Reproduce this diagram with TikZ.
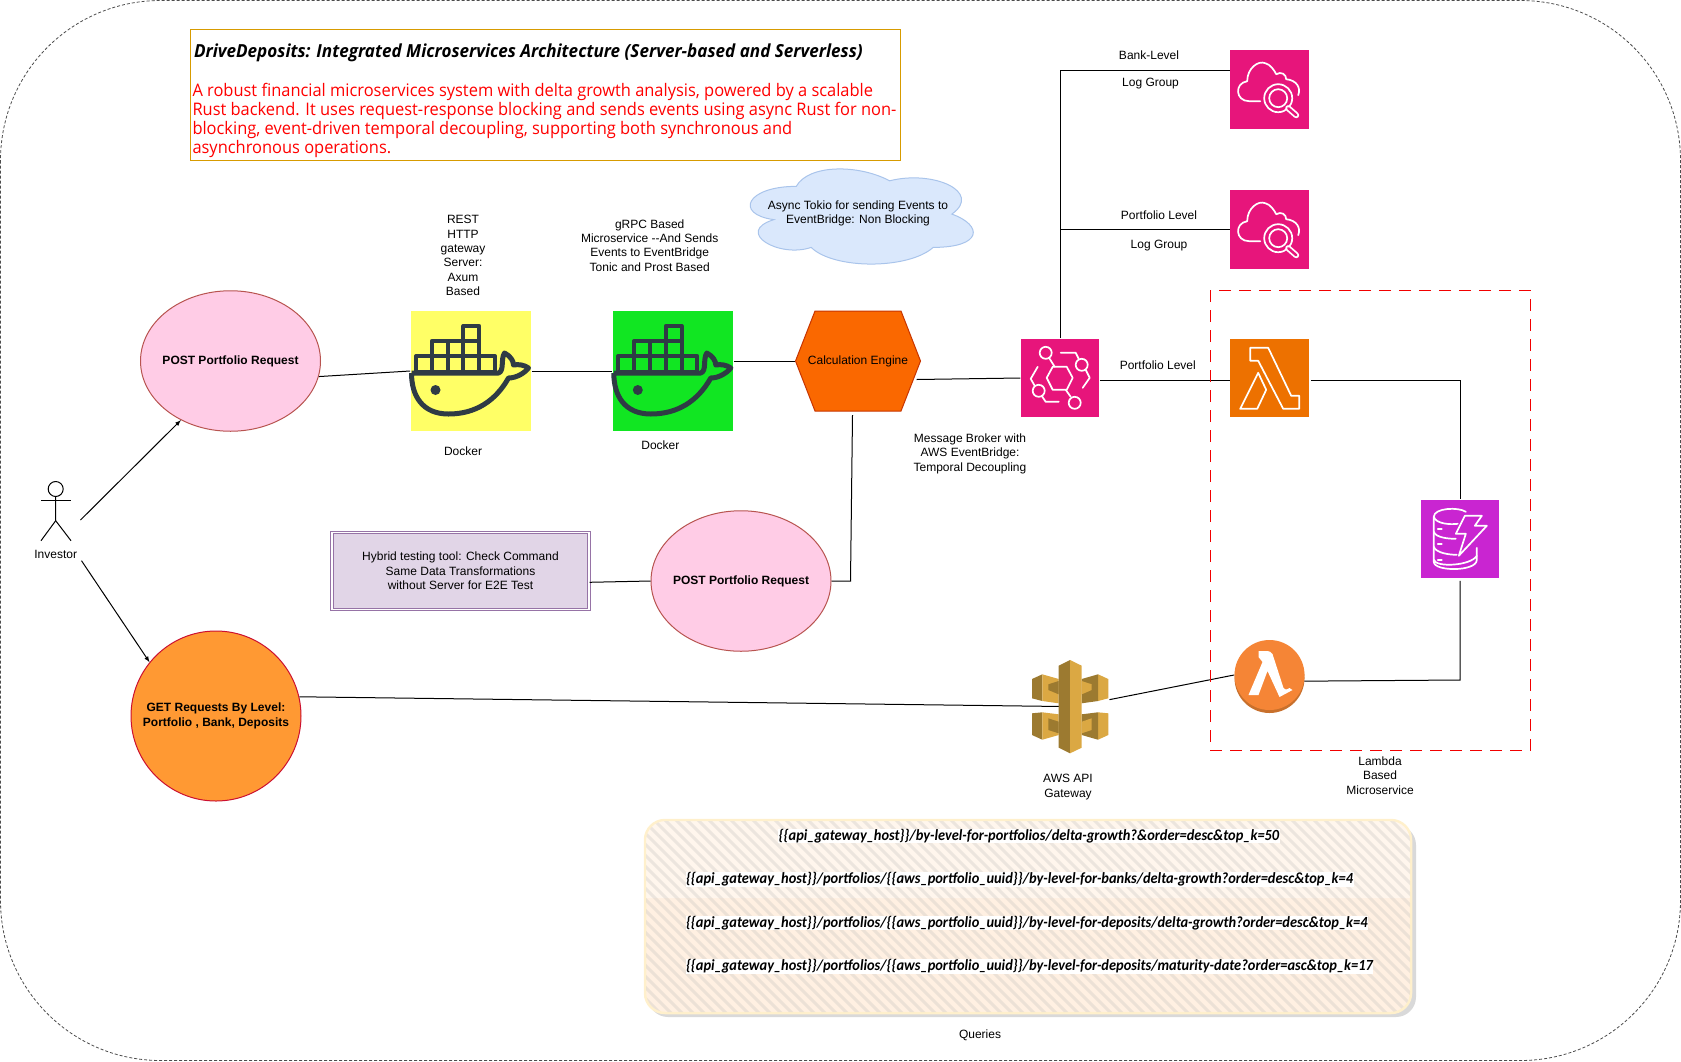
\documentclass[tikz,border=0pt]{standalone}
\usepackage{fontspec}
\setmainfont{Liberation Sans}
\newfontfamily\headfont[FakeStretch = 0.95]{Open Sans}
\newfontfamily\queryfont[FakeStretch = 0.93]{Carlito}
\usetikzlibrary{calc}
\usetikzlibrary{shapes.geometric}
\tikzset{>=latex}

\definecolor{pinkaws}{HTML}{E7157B}
\definecolor{orangeaws}{HTML}{ED7100}
\definecolor{purpleaws}{HTML}{C925D1}
\definecolor{whaleink}{HTML}{2F3B45}
\definecolor{goldlight}{HTML}{DBA843}
\definecolor{golddark}{HTML}{9C7A30}
\definecolor{yellowbox}{HTML}{FFFF66}
\definecolor{greenbox}{HTML}{11E622}
\definecolor{pinkfill}{HTML}{FFCCE6}
\definecolor{orangefill}{HTML}{FF9933}
\definecolor{pinkedge}{HTML}{B85450}
\definecolor{orangeedge}{HTML}{CC1030}
\definecolor{lilacfill}{HTML}{E1D5E7}
\definecolor{lilacedge}{HTML}{9673A6}
\definecolor{cloudfill}{HTML}{DAE8FC}
\definecolor{cloudedge}{HTML}{A9C4EB}
\definecolor{hexfill}{HTML}{FA6800}
\definecolor{hexedge}{HTML}{C73500}
\definecolor{lambdafill}{HTML}{F58536}
\definecolor{lambdadark}{HTML}{C8702C}
\definecolor{goldedge}{HTML}{D79B00}
\definecolor{queryfill}{HTML}{FFF0E2}
\definecolor{queryedge}{HTML}{FFF0CC}

\tikzset{
	awsbox/.style = {rectangle, minimum width = 78.5pt, minimum height = 78.5pt, inner sep = 0pt},
	dockerbox/.style = {rectangle, minimum width = 120.5pt, minimum height = 120pt, inner sep = 0pt},
	request/.style = {ellipse, draw = #1, minimum width = 180pt, minimum height = 140.5pt, inner sep = 0pt, inner xsep = -20pt, align = center, font = {\fontsize{12pt}{14.4pt}\selectfont\bfseries}},
	urlline/.style = {fill = white, inner sep = 0.5pt, font = {\queryfont\bfseries\itshape\fontsize{15.5pt}{18pt}\selectfont}},
	icon/.style = {white, line width = 1.7pt, line join = round, line cap = round}
}

% top left corner of the box in #1, #2
\newcommand{\dockerwhale}[2]{
\begin{scope}[shift = {(#1, #2)}, whaleink, line join = round]
\foreach \x in {0, 1, ..., 4}
	\draw[line width = 4pt] (5.5 + \x * 15.8, 45) rectangle ++(15.8, 15.7);
\foreach \x in {1, 2, 3}
	\draw[line width = 4pt] (5.5 + \x * 15.8, 30) rectangle ++(15.8, 15);
\draw[line width = 4pt] (52.9, 15) rectangle ++(15.8, 15);
\draw[line width = 5pt] (1, 62) -- (88, 62) .. controls (94, 60) and (90, 48) .. (94, 42) .. controls (100, 45) and (103, 50) .. (103, 54) .. controls (108, 53) and (114, 54) .. (118, 57) .. controls (114, 62) and (106, 67) .. (98, 67) .. controls (85, 90) and (65, 103) .. (38, 103) .. controls (12, 103) and (1, 85) .. (1, 62);
\fill (25, 79) circle [radius = 5];
\end{scope}
}

\newcommand{\logsicon}[2]{
\begin{scope}[shift = {(#1, #2)}]
\draw[icon] (30, 51) -- (19, 51) .. controls (5, 51) and (4, 33) .. (17, 31) .. controls (17, 18) and (28, 10) .. (35, 13) .. controls (40, 14) and (44, 20) .. (46, 24) .. controls (51, 21) and (56, 24) .. (56, 29) .. controls (66, 30) and (71, 37) .. (68, 45);
\draw[icon] (48, 48) circle [radius = 14];
\draw[icon] (48, 48) circle [radius = 9];
\draw[white, line width = 6pt, line cap = round] (58, 58) -- (66, 65);
\draw[pinkaws, line width = 2.5pt, line cap = round] (58, 58) -- (66, 65);
\end{scope}
}

\newcommand{\bridgeicon}[2]{
\begin{scope}[shift = {(#1, #2)}]
\draw[icon] (26, 39) -- (32, 28) -- (46, 28) -- (52, 39) -- (46, 51) -- (32, 51) -- cycle;
\draw[icon] (25, 14) circle [radius = 6];
\draw[icon] (61, 26) circle [radius = 6];
\draw[icon] (18, 52) circle [radius = 6];
\draw[icon] (54, 64) circle [radius = 6];
\draw[icon] (29, 20) -- (34, 28);
\draw[icon] (40, 14) -- (55, 14) -- (58, 20);
\draw[icon] (65, 31) -- (69, 39) -- (62, 49);
\draw[icon] (17, 28) -- (10, 40) -- (14, 47);
\draw[icon] (21, 57) -- (25, 63) -- (38, 63);
\draw[icon] (45, 51) -- (50, 58);
\end{scope}
}

\newcommand{\lambdaicon}[2]{
\begin{scope}[shift = {(#1, #2)}]
\draw[icon] (20, 9) -- (38, 9) -- (61, 57) -- (69, 57) -- (69, 70) -- (53, 70) -- (28, 22) -- (20, 22) -- cycle;
\draw[icon] (28, 34) -- (36, 51) -- (27, 70) -- (10, 70) -- cycle;
\end{scope}
}

\newcommand{\dynamoicon}[2]{
\begin{scope}[shift = {(#1, #2)}]
\draw[icon] (45, 12) .. controls (38, 7) and (13, 8) .. (13, 17) -- (13, 62) .. controls (13, 72) and (56, 72) .. (56, 60) -- (56, 48);
\draw[icon] (13, 17) .. controls (15, 24) and (29, 25) .. (37, 24);
\draw[icon] (13, 32) .. controls (15, 38) and (28, 39) .. (35, 39);
\draw[icon] (13, 47) .. controls (15, 53) and (28, 55) .. (36, 55);
\draw[icon] (13, 60) .. controls (15, 68) and (50, 66) .. (56, 56);
\draw[icon] (17, 29) -- (21, 29);
\draw[icon] (17, 44) -- (21, 44);
\draw[icon] (17, 60) -- (21, 60);
\draw[icon] (44, 16) -- (61, 16) -- (54, 26) -- (66, 26) -- (38, 56) -- (45, 34) -- (35, 34) -- cycle;
\end{scope}
}

\begin{document}
\begin{tikzpicture}[x = 1pt, y = -1pt, font = {\fontsize{12pt}{14.4pt}\selectfont}, line width = 1pt]
\useasboundingbox (0, 0) rectangle (1681, 1061);
\draw[black!70, line width = 0.8pt, dash pattern = on 3pt off 2pt, rounded corners = 160pt] (0.5, 0.5) rectangle (1680.5, 1060.5);

% title
\node[rectangle, draw = goldedge, minimum width = 710pt, minimum height = 131pt, inner sep = 0pt] (TITLE) at (545.5, 94.5) {};
\node[anchor = west, inner sep = 0pt, font = {\headfont\bfseries\itshape\fontsize{18pt}{19pt}\selectfont}] (HEADING) at (193.5, 53) {DriveDeposits: Integrated Microservices Architecture (Server-based and Serverless)};
\node[anchor = north west, inner sep = 0pt, align = left, red, font = {\headfont\fontsize{17.3pt}{19pt}\selectfont}] (SUMMARY) at (192, 82.5) {A robust financial microservices system with delta growth analysis, powered by a scalable \\ Rust backend. It uses request-response blocking and sends events using async Rust for non- \\ blocking, event-driven temporal decoupling, supporting both synchronous and \\ asynchronous operations.};

% cloud
\begin{scope}[shift = {(734, 158.6)}, x = 249pt, y = -111pt]
\draw[draw = cloudedge, fill = cloudfill] (0.25, 0.25) .. controls (0.05, 0.25) and (0, 0.5) .. (0.16, 0.55) .. controls (0, 0.66) and (0.18, 0.9) .. (0.31, 0.8) .. controls (0.4, 1) and (0.7, 1) .. (0.8, 0.8) .. controls (1, 0.8) and (1, 0.6) .. (0.875, 0.5) .. controls (1, 0.3) and (0.8, 0.1) .. (0.625, 0.2) .. controls (0.5, 0.05) and (0.3, 0.05) .. (0.25, 0.25) -- cycle;
\end{scope}
\node[align = center] (TOKIO) at (858, 213.5) {Async Tokio for sending Events to \\ EventBridge: Non Blocking};

% boxes
\node[dockerbox, fill = yellowbox] (DOCKERA) at (470.8, 371) {};
\node[dockerbox, fill = greenbox] (DOCKERB) at (673, 371) {};
\node[awsbox, fill = pinkaws] (LOGA) at (1269.5, 89.5) {};
\node[awsbox, fill = pinkaws] (LOGB) at (1269.5, 229.5) {};
\node[awsbox, fill = pinkaws] (EVENT) at (1060, 378) {};
\node[awsbox, fill = orangeaws] (LAMBDA) at (1269.5, 378) {};
\node[awsbox, fill = purpleaws] (DYNAMO) at (1460, 539) {};

\node[request = pinkedge, fill = pinkfill] (POSTA) at (230.5, 361) {POST Portfolio Request};
\node[request = pinkedge, fill = pinkfill] (POSTB) at (741, 581) {POST Portfolio Request};
\node[request = orangeedge, fill = orangefill, minimum width = 170pt, minimum height = 170pt] (GET) at (216, 716) {GET Requests By Level: \\ Portfolio , Bank, Deposits};
\node[rectangle, draw = lilacedge, double, double distance = 1.5pt, fill = lilacfill, minimum width = 257pt, minimum height = 77pt, inner sep = 0pt, align = center] (HYBRID) at (460.5, 571) {Hybrid testing tool: Check Command \\ Same Data Transformations \\ without Server for E2E Test};

% calculation engine
\draw[draw = hexedge, fill = hexfill] (795.5, 361) -- (815, 311) -- (901, 311) -- (920.5, 361) -- (901, 411) -- (815, 411) -- cycle;
\node[rectangle, minimum width = 125pt, minimum height = 100pt, inner sep = 0pt] (CALC) at (858, 361) {Calculation Engine};

% lambda function and gateway, connectors go under their icons
\fill[lambdadark] (1269.5, 678) circle [radius = 35];
\node[circle, fill = lambdafill, minimum size = 70pt, inner sep = 0pt] (LAMBDAFN) at (1269.5, 675) {};
\node[rectangle, minimum width = 78pt, minimum height = 93pt, inner sep = 0pt] (GATEWAY) at (1070, 706.6) {};

% investor
\node (INVESTOR) at (55.7, 554) {Investor};
\draw (55.7, 489) circle [radius = 7.5];
\draw (55.7, 496.5) -- (55.7, 520.7) -- (41, 540.7);
\draw (55.7, 520.7) -- (71, 540.7);
\draw (41, 500.7) -- (71, 500.7);
\coordinate (INVESTORa) at (80.5, 520);
\coordinate (INVESTORb) at (81.5, 560.7);
\coordinate (CALCout) at (916.6, 379.5);
\coordinate (CALCdown) at (852.5, 415);
\coordinate (LOGAin) at ($(LOGA.west) + (0, -19.5)$);
\coordinate (DYNAMOturn) at (1460, 680);

% connectors
\draw[->] (INVESTORa) -- (POSTA.230);
\draw[->] (INVESTORb) -- (GET.141);
\draw (POSTA.-10) -- (DOCKERA.west);
\draw (DOCKERA.east) -- (DOCKERB.west);
\draw (DOCKERB.east |- CALC.west) -- (CALC.west);
\draw (CALCout) -- (EVENT.west);
\draw (CALCdown) -- (850.5, 581) -- (POSTB.east);
\draw (HYBRID.-5) -- (POSTB.west);
\draw (EVENT.north) |- (LOGAin);
\draw (EVENT.north |- LOGB.west) -- (LOGB.west);
\draw (EVENT.-4) -- (LAMBDA.184);
\draw[shorten <= 2pt] (LAMBDA.-4) -| (DYNAMO.north);
\draw[shorten <= 2pt] (DYNAMO.south) -- (DYNAMOturn) -- (LAMBDAFN.-10);
\draw (GATEWAY.10) -- (LAMBDAFN.west);
\draw (GET.13) -- (GATEWAY.center);

% lambda based group
\draw[red!95!black, line width = 1pt, dash pattern = on 12pt off 8pt] (1210, 290) rectangle (1530.5, 750);

% icons
\dockerwhale{410.5}{311}
\dockerwhale{612.8}{311}
\logsicon{1230.2}{50.2}
\logsicon{1230.2}{190.2}
\bridgeicon{1020.7}{338.8}
\lambdaicon{1230.2}{338.8}
\dynamoicon{1420.8}{499.8}

\begin{scope}[shift = {(LAMBDAFN.center)}]
\fill[white] (-11, -24) -- (-4, -24) .. controls (0, -24) and (2, -23) .. (3, -21) -- (14, 13) .. controls (15, 15) and (17, 15) .. (20, 13) -- (23, 15) -- (10, 22) -- (-2, -4) -- (-11, 20) -- (-21, 20) -- (-7, -13) -- (-11, -18) -- cycle;
\end{scope}

\begin{scope}[shift = {(1025, 655)}]
\fill[golddark] (7, 24) -- (17.3, 19.3) -- (17.3, 46) -- (7, 43.3) -- cycle;
\fill[goldlight] (17.3, 19.3) -- (33.7, 24) -- (33.7, 48.3) -- (17.3, 46) -- cycle;
\fill[golddark] (23.3, 29.3) -- (33.7, 26) -- (33.7, 39.3) -- (23.3, 35) -- cycle;
\fill[goldlight] (83.3, 24) -- (73, 19.3) -- (73, 46) -- (83.3, 43.3) -- cycle;
\fill[golddark] (73, 19.3) -- (56.7, 24) -- (56.7, 48.3) -- (73, 46) -- cycle;
\fill[goldlight] (66.7, 29.3) -- (56.7, 26) -- (56.7, 39.3) -- (66.7, 35) -- cycle;
\fill[golddark] (7, 58.3) -- (17.3, 57.3) -- (17.3, 84.7) -- (7, 80) -- cycle;
\fill[goldlight] (17.3, 57.3) -- (33.7, 59.3) -- (33.7, 80) -- (17.3, 84.7) -- cycle;
\fill[golddark] (23.3, 63.3) -- (33.7, 66.7) -- (33.7, 78.3) -- (23.3, 75) -- cycle;
\fill[goldlight] (83.3, 58.3) -- (73, 57.3) -- (73, 84.7) -- (83.3, 80) -- cycle;
\fill[golddark] (73, 57.3) -- (56.7, 59.3) -- (56.7, 80) -- (73, 84.7) -- cycle;
\fill[goldlight] (66.7, 63.3) -- (56.7, 66.7) -- (56.7, 78.3) -- (66.7, 75) -- cycle;
\fill[golddark] (33.7, 10.7) -- (45, 5) -- (45, 98.3) -- (33.7, 92.7) -- cycle;
\fill[goldlight] (56.7, 10.7) -- (45, 5) -- (45, 98.3) -- (56.7, 92.7) -- cycle;
\end{scope}

% labels
\node[align = center] (RESTLABEL) at (463, 255.6) {REST \\ HTTP \\ gateway \\ Server: \\ Axum \\ Based};
\node (DOCKERALABEL) at (463, 451.5) {Docker};
\node (DOCKERBLABEL) at (660.4, 445) {Docker};
\node[align = center] (GRPCLABEL) at (649.7, 245.5) {gRPC Based \\ Microservice -{}-And Sends \\ Events to EventBridge \\ Tonic and Prost Based};
\node[align = center] (BROKERLABEL) at (970, 453.5) {Message Broker with \\ AWS EventBridge: \\ Temporal Decoupling};
\node (BANKLABEL) at (1149, 55.7) {Bank-Level};
\node (LOGALABEL) at (1150.5, 84) {Log Group};
\node (PORTLABEL) at (1159, 215.5) {Portfolio Level};
\node (LOGBLABEL) at (1159, 246) {Log Group};
\node (LEVELLABEL) at (1157.8, 365.5) {Portfolio Level};
\node[align = center] (LAMBDALABEL) at (1380, 775.5) {Lambda \\ Based \\ Microservice};
\node[align = center] (GATEWAYLABEL) at (1068, 787) {AWS API \\ Gateway};

% queries
\fill[black, opacity = 0.15, rounded corners = 20pt] (648, 825) rectangle (1416, 1017);
\node[rectangle, rounded corners = 20pt, draw = queryedge, line width = 2.5pt, fill = queryfill, minimum width = 766pt, minimum height = 193pt, inner sep = 0pt] (QUERIES) at (1028, 916.5) {};
\begin{scope}
\clip[rounded corners = 20pt] (646, 821) rectangle (1410, 1012);
\fill[white, opacity = 0.4] (645, 820) rectangle (1411, 898);
\foreach \x in {-200, -189, ..., 780}
	\draw[black!30, opacity = 0.24, line width = 3pt] (645 + \x, 820) -- (838 + \x, 1013);
\end{scope}
\node[urlline] (QUERYA) at (1029, 836) {\{\{api\_gateway\_host\}\}/by-level-for-portfolios/delta-growth?\&order=desc\&top\_k=50};
\node[urlline, anchor = west] (QUERYB) at (685, 879.5) {\{\{api\_gateway\_host\}\}/portfolios/\{\{aws\_portfolio\_uuid\}\}/by-level-for-banks/delta-growth?order=desc\&top\_k=4};
\node[urlline, anchor = west] (QUERYC) at (685, 923) {\{\{api\_gateway\_host\}\}/portfolios/\{\{aws\_portfolio\_uuid\}\}/by-level-for-deposits/delta-growth?order=desc\&top\_k=4};
\node[urlline, anchor = west] (QUERYD) at (685, 966.5) {\{\{api\_gateway\_host\}\}/portfolios/\{\{aws\_portfolio\_uuid\}\}/by-level-for-deposits/maturity-date?order=asc\&top\_k=17};
\node (QUERIESLABEL) at (980, 1035.6) {Queries};
\end{tikzpicture}
\end{document}
